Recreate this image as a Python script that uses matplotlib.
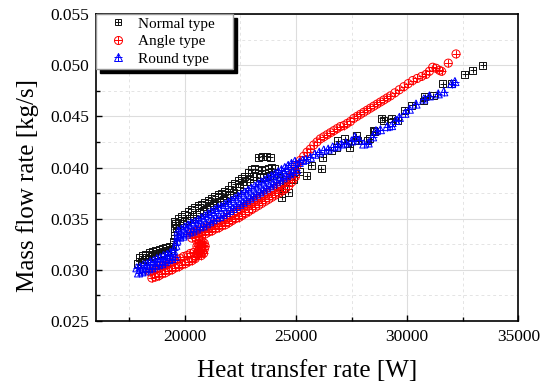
import matplotlib
matplotlib.use("Agg")
import matplotlib.pyplot as plt
from matplotlib.lines import Line2D
from matplotlib.legend_handler import HandlerTuple
from matplotlib.ticker import MultipleLocator, FormatStrFormatter

plt.rcParams['font.family'] = ['Liberation Serif', 'DejaVu Serif']

# ---- Normal type (black) ----
normal_low_q = [17950, 18100, 18250, 18400, 18550, 18700, 18850, 19000, 19150, 19300, 19450,
                17900, 18050, 18200, 18350, 18500, 18650, 18800, 18950, 19100, 19250, 19400,
                19500, 19520, 19550, 19600]
normal_low_m = [0.0312, 0.0314, 0.0315, 0.0317, 0.0318, 0.0319, 0.0320, 0.0321, 0.0322, 0.0323, 0.0323,
                0.0306, 0.0308, 0.0310, 0.0311, 0.0313, 0.0314, 0.0315, 0.0316, 0.0317, 0.0318, 0.0319,
                0.0328, 0.0334, 0.0340, 0.0345]
normal_up_q = [19550, 19700, 19850, 20000, 20150, 20300, 20450, 20600, 20750, 20900, 21050,
               21200, 21350, 21500, 21650, 21800, 21950, 22100, 22250, 22400, 22550, 22700,
               22850, 23000, 23150, 23300, 23450, 23600, 23750, 23900, 24050,
               19625, 19775, 19925, 20075, 20225, 20375, 20525, 20675, 20825, 20975, 21125,
               21275, 21425, 21575, 21725, 21875, 22025, 22175, 22325, 22475, 22625, 22775,
               22925, 23075, 23225, 23375, 23525, 23675, 23825, 23975]
normal_up_m = [0.0347, 0.0350, 0.0352, 0.0354, 0.0357, 0.0359, 0.0361, 0.0363, 0.0364, 0.0366, 0.0368,
               0.0370, 0.0372, 0.0374, 0.0375, 0.0377, 0.0379, 0.0382, 0.0384, 0.0387, 0.0389, 0.0391,
               0.0395, 0.0398, 0.0399, 0.0398, 0.0397, 0.0398, 0.0399, 0.0400, 0.0399,
               0.0341, 0.0343, 0.0345, 0.0348, 0.0350, 0.0352, 0.0354, 0.0356, 0.0358, 0.0360, 0.0362,
               0.0364, 0.0366, 0.0367, 0.0369, 0.0371, 0.0374, 0.0376, 0.0378, 0.0381, 0.0383, 0.0386,
               0.0389, 0.0391, 0.0391, 0.0390, 0.0390, 0.0391, 0.0392, 0.0392]
normal_hi_q = [23300, 23500, 23700, 23850, 24200, 24280, 24430, 24355, 24650, 24730, 24900, 24550,
               24950, 25150, 25477, 25700, 26150, 26210, 26600, 26830, 26890, 27200, 27330, 27420,
               27720, 27780, 28230, 28320, 28470, 28550, 28850, 28950, 29300, 29310, 29580, 29890,
               30200, 30720, 30790, 31170, 31610, 31990, 32590, 32960, 33410]
normal_hi_m = [0.0410, 0.0411, 0.0411, 0.0410, 0.0394, 0.0381, 0.0379, 0.0371, 0.0376, 0.0391, 0.0388, 0.0386,
               0.0399, 0.0396, 0.0392, 0.0402, 0.0399, 0.0410, 0.0417, 0.0420, 0.0426, 0.0428, 0.0423, 0.0420,
               0.0431, 0.0426, 0.0426, 0.0428, 0.0436, 0.0435, 0.0448, 0.0446, 0.0448, 0.0444, 0.0446, 0.0456,
               0.0461, 0.0465, 0.0469, 0.0470, 0.0482, 0.0482, 0.0491, 0.0495, 0.0500]

# ---- Angle type (red) ----
angle_low_q = [18450, 18600, 18750, 18900, 19050, 19200, 19350, 19500, 19650, 19800, 19950, 20100, 20250, 20400,
               18525, 18675, 18825, 18975, 19125, 19275, 19425, 19575, 19725, 19875, 20025, 20175, 20325, 20475]
angle_low_m = [0.0298, 0.0299, 0.0301, 0.0302, 0.0304, 0.0305, 0.0307, 0.0308, 0.0310, 0.0311, 0.0313, 0.0314, 0.0316, 0.0317,
               0.0292, 0.0293, 0.0294, 0.0296, 0.0297, 0.0299, 0.0300, 0.0302, 0.0303, 0.0305, 0.0306, 0.0308, 0.0309, 0.0311]
angle_blob_q = [20500, 20600, 20700, 20800, 20880, 20920, 20880, 20780, 20650, 20750, 20650, 20550,
                20600, 20700, 20800, 20700, 20600, 20550, 20850, 20750, 20650]
angle_blob_m = [0.0313, 0.0315, 0.0317, 0.0318, 0.0320, 0.0323, 0.0326, 0.0328, 0.0329, 0.0322, 0.0320, 0.0323,
                0.0318, 0.0320, 0.0323, 0.0325, 0.0326, 0.0316, 0.0316, 0.0314, 0.0323]
angle_mid_q = [20250, 20400, 20550, 20700, 20850, 21000, 21150, 21300, 21450, 21600, 21750, 21900, 22050,
               22200, 22350, 22500, 22650, 22800, 22950, 23100, 23250, 23400, 23550, 23700, 23850, 24000,
               24150, 24300, 24450, 24600, 24750, 24900,
               20325, 20475, 20625, 20775, 20925, 21075, 21225, 21375, 21525, 21675, 21825, 21975, 22125,
               22275, 22425, 22575, 22725, 22875, 23025, 23175, 23325, 23475, 23625, 23775, 23925, 24075,
               24225, 24375, 24525, 24675, 24825, 24975]
angle_mid_m = [0.0336, 0.0337, 0.0338, 0.0339, 0.0340, 0.0342, 0.0343, 0.0345, 0.0346, 0.0348, 0.0349, 0.0351, 0.0353,
               0.0355, 0.0357, 0.0359, 0.0361, 0.0363, 0.0365, 0.0367, 0.0369, 0.0371, 0.0373, 0.0375, 0.0377, 0.0379,
               0.0381, 0.0383, 0.0385, 0.0388, 0.0391, 0.0396,
               0.0331, 0.0332, 0.0333, 0.0334, 0.0335, 0.0337, 0.0338, 0.0340, 0.0341, 0.0343, 0.0344, 0.0346, 0.0348,
               0.0350, 0.0351, 0.0353, 0.0355, 0.0357, 0.0359, 0.0361, 0.0363, 0.0365, 0.0367, 0.0369, 0.0371, 0.0373,
               0.0375, 0.0377, 0.0379, 0.0382, 0.0386, 0.0391]
angle_hi_q = [25050, 25200, 25350, 25500, 25650, 25800, 25950, 26100, 26250, 26400, 26550, 26700, 26850,
              27000, 27150, 27300, 27450, 27600, 27750, 27900, 28050, 28200, 28350, 28500, 28650, 28800,
              28950, 29100, 29250, 29450, 29650, 29850, 30050, 30250, 30450, 30650, 30850, 31000, 31150,
              31300, 31450, 31550, 31850, 32200]
angle_hi_m = [0.0402, 0.0407, 0.0411, 0.0415, 0.0418, 0.0422, 0.0425, 0.0428, 0.0430, 0.0432, 0.0434, 0.0436, 0.0438,
              0.0440, 0.0441, 0.0443, 0.0445, 0.0448, 0.0450, 0.0452, 0.0454, 0.0456, 0.0458, 0.0460, 0.0462, 0.0464,
              0.0466, 0.0468, 0.0470, 0.0473, 0.0476, 0.0479, 0.0482, 0.0485, 0.0487, 0.0489, 0.0491, 0.0494, 0.0498,
              0.0497, 0.0495, 0.0494, 0.0502, 0.0511]

# ---- Round type (blue) ----
round_low_q = [17850, 18000, 18150, 18300, 18450, 18600, 18750, 18900, 19050, 19200, 19350, 19500,
               17925, 18075, 18225, 18375, 18525, 18675, 18825, 18975, 19125, 19275, 19425, 19575,
               19600, 19650, 19700]
round_low_m = [0.0302, 0.0303, 0.0305, 0.0306, 0.0308, 0.0309, 0.0311, 0.0312, 0.0314, 0.0315, 0.0317, 0.0319,
               0.0297, 0.0298, 0.0299, 0.0301, 0.0302, 0.0304, 0.0305, 0.0306, 0.0308, 0.0310, 0.0311, 0.0313,
               0.0324, 0.0329, 0.0334]
round_mid_q = [19700, 19850, 20000, 20150, 20300, 20450, 20600, 20750, 20900, 21050, 21200, 21350, 21500,
               21650, 21800, 21950, 22100, 22250, 22400, 22550, 22700, 22850, 23000, 23150, 23300, 23450,
               23600, 23750, 23900, 24050, 24200, 24350, 24500, 24650, 24800, 24950,
               19775, 19925, 20075, 20225, 20375, 20525, 20675, 20825, 20975, 21125, 21275, 21425, 21575,
               21725, 21875, 22025, 22175, 22325, 22475, 22625, 22775, 22925, 23075, 23225, 23375, 23525,
               23675, 23825, 23975, 24125, 24275, 24425, 24575, 24725, 24875, 25025]
round_mid_m = [0.0338, 0.0340, 0.0342, 0.0344, 0.0346, 0.0347, 0.0349, 0.0351, 0.0353, 0.0355, 0.0357, 0.0359, 0.0361,
               0.0362, 0.0364, 0.0366, 0.0368, 0.0370, 0.0372, 0.0374, 0.0376, 0.0378, 0.0380, 0.0382, 0.0384, 0.0386,
               0.0388, 0.0390, 0.0392, 0.0394, 0.0396, 0.0398, 0.0400, 0.0402, 0.0404, 0.0406,
               0.0332, 0.0333, 0.0335, 0.0337, 0.0338, 0.0340, 0.0342, 0.0343, 0.0345, 0.0347, 0.0349, 0.0351, 0.0352,
               0.0354, 0.0356, 0.0358, 0.0360, 0.0362, 0.0364, 0.0366, 0.0368, 0.0370, 0.0372, 0.0374, 0.0376, 0.0378,
               0.0380, 0.0382, 0.0384, 0.0386, 0.0388, 0.0390, 0.0392, 0.0394, 0.0396, 0.0398]
round_hi_q = [25150, 25300, 25450, 25650, 25850, 26050, 26250, 26450, 26650, 26850, 27050, 27250, 27500,
              27650, 27850, 28050, 28250, 28450, 28600, 28800, 29100, 29300, 29500, 29650, 29900, 30100,
              30400, 30750, 31000, 31400, 31650, 32000, 32150]
round_hi_m = [0.0405, 0.0407, 0.0408, 0.0410, 0.0413, 0.0415, 0.0417, 0.0418, 0.0420, 0.0421, 0.0423, 0.0424, 0.0426,
              0.0430, 0.0427, 0.0423, 0.0424, 0.0430, 0.0436, 0.0437, 0.0440, 0.0441, 0.0446, 0.0449, 0.0453, 0.0457,
              0.0462, 0.0467, 0.0470, 0.0472, 0.0474, 0.0482, 0.0484]

normal_q = normal_low_q + normal_up_q + normal_hi_q
normal_m = normal_low_m + normal_up_m + normal_hi_m
angle_q = angle_low_q + angle_blob_q + angle_mid_q + angle_hi_q
angle_m = angle_low_m + angle_blob_m + angle_mid_m + angle_hi_m
round_q = round_low_q + round_mid_q + round_hi_q
round_m = round_low_m + round_mid_m + round_hi_m

fig = plt.figure(figsize=(5.51, 3.83), dpi=100)
ax = fig.add_axes([0.1737, 0.1619, 0.767, 0.8015])

lw = 0.7
ax.scatter(normal_q, normal_m, marker='s', s=25, facecolors='none', edgecolors='#111111', linewidths=lw, zorder=3)
ax.scatter(normal_q, normal_m, marker='+', s=25, c='#111111', linewidths=lw, zorder=3)
ax.scatter(angle_q, angle_m, marker='o', s=34, facecolors='none', edgecolors='red', linewidths=lw, zorder=3)
ax.scatter(angle_q, angle_m, marker='+', s=34, c='red', linewidths=lw, zorder=3)
ax.scatter(round_q, round_m, marker='^', s=34, facecolors='none', edgecolors='blue', linewidths=lw, zorder=3)
ax.scatter(round_q, round_m, marker='+', s=34, c='blue', linewidths=lw, zorder=3)

ax.set_xlim(16000, 35000)
ax.set_ylim(0.025, 0.055)
ax.xaxis.set_major_locator(MultipleLocator(5000))
ax.xaxis.set_minor_locator(MultipleLocator(2500))
ax.yaxis.set_major_locator(MultipleLocator(0.005))
ax.yaxis.set_minor_locator(MultipleLocator(0.0025))
ax.yaxis.set_major_formatter(FormatStrFormatter('%.3f'))
ax.set_xticks([20000, 25000, 30000, 35000])

ax.grid(True, which='major', color='#dddddd', lw=0.8, zorder=0)
ax.grid(True, which='minor', color='#e4e4e4', lw=0.7, ls=(0, (3, 3)), zorder=0)
ax.set_axisbelow(True)

ax.tick_params(which='both', direction='in', top=False, right=False, labelsize=12.5, width=1.0)
ax.tick_params(which='major', length=4.5)
ax.tick_params(which='minor', length=3)
ax.tick_params(axis='y', pad=4.5)
ax.tick_params(axis='x', pad=6)
for sp in ax.spines.values():
    sp.set_linewidth(1.2)
    sp.set_color('black')

ax.set_xlabel('Heat transfer rate [W]', fontsize=18)
ax.set_ylabel('Mass flow rate [kg/s]', fontsize=18)
ax.xaxis.set_label_coords(0.5, -0.128)
ax.yaxis.set_label_coords(-0.135, 0.443)

h_normal = (Line2D([], [], ls='none', marker='s', ms=5, mfc='none', mec='#111111', mew=lw),
            Line2D([], [], ls='none', marker='+', ms=5, mec='#111111', mew=lw))
h_angle = (Line2D([], [], ls='none', marker='o', ms=5.8, mfc='none', mec='red', mew=lw),
           Line2D([], [], ls='none', marker='+', ms=5.8, mec='red', mew=lw))
h_round = (Line2D([], [], ls='none', marker='^', ms=5.8, mfc='none', mec='blue', mew=lw),
           Line2D([], [], ls='none', marker='+', ms=5.8, mec='blue', mew=lw))
leg = ax.legend([h_normal, h_angle, h_round], ['Normal type', 'Angle type', 'Round type'],
                handler_map={tuple: HandlerTuple(ndivide=1)},
                loc='upper left', bbox_to_anchor=(0.0, 1.0, 0.324, 0.0), mode='expand',
                borderaxespad=0.0, fontsize=11, handlelength=2.5, handletextpad=0.1,
                borderpad=0.2, labelspacing=0.25, fancybox=False, framealpha=1,
                edgecolor='#999999',
                shadow={'ox': 3, 'oy': -3, 'facecolor': 'black', 'edgecolor': 'black', 'alpha': 1})
leg.get_frame().set_linewidth(1.0)

fig.savefig('out.png', dpi=100)
